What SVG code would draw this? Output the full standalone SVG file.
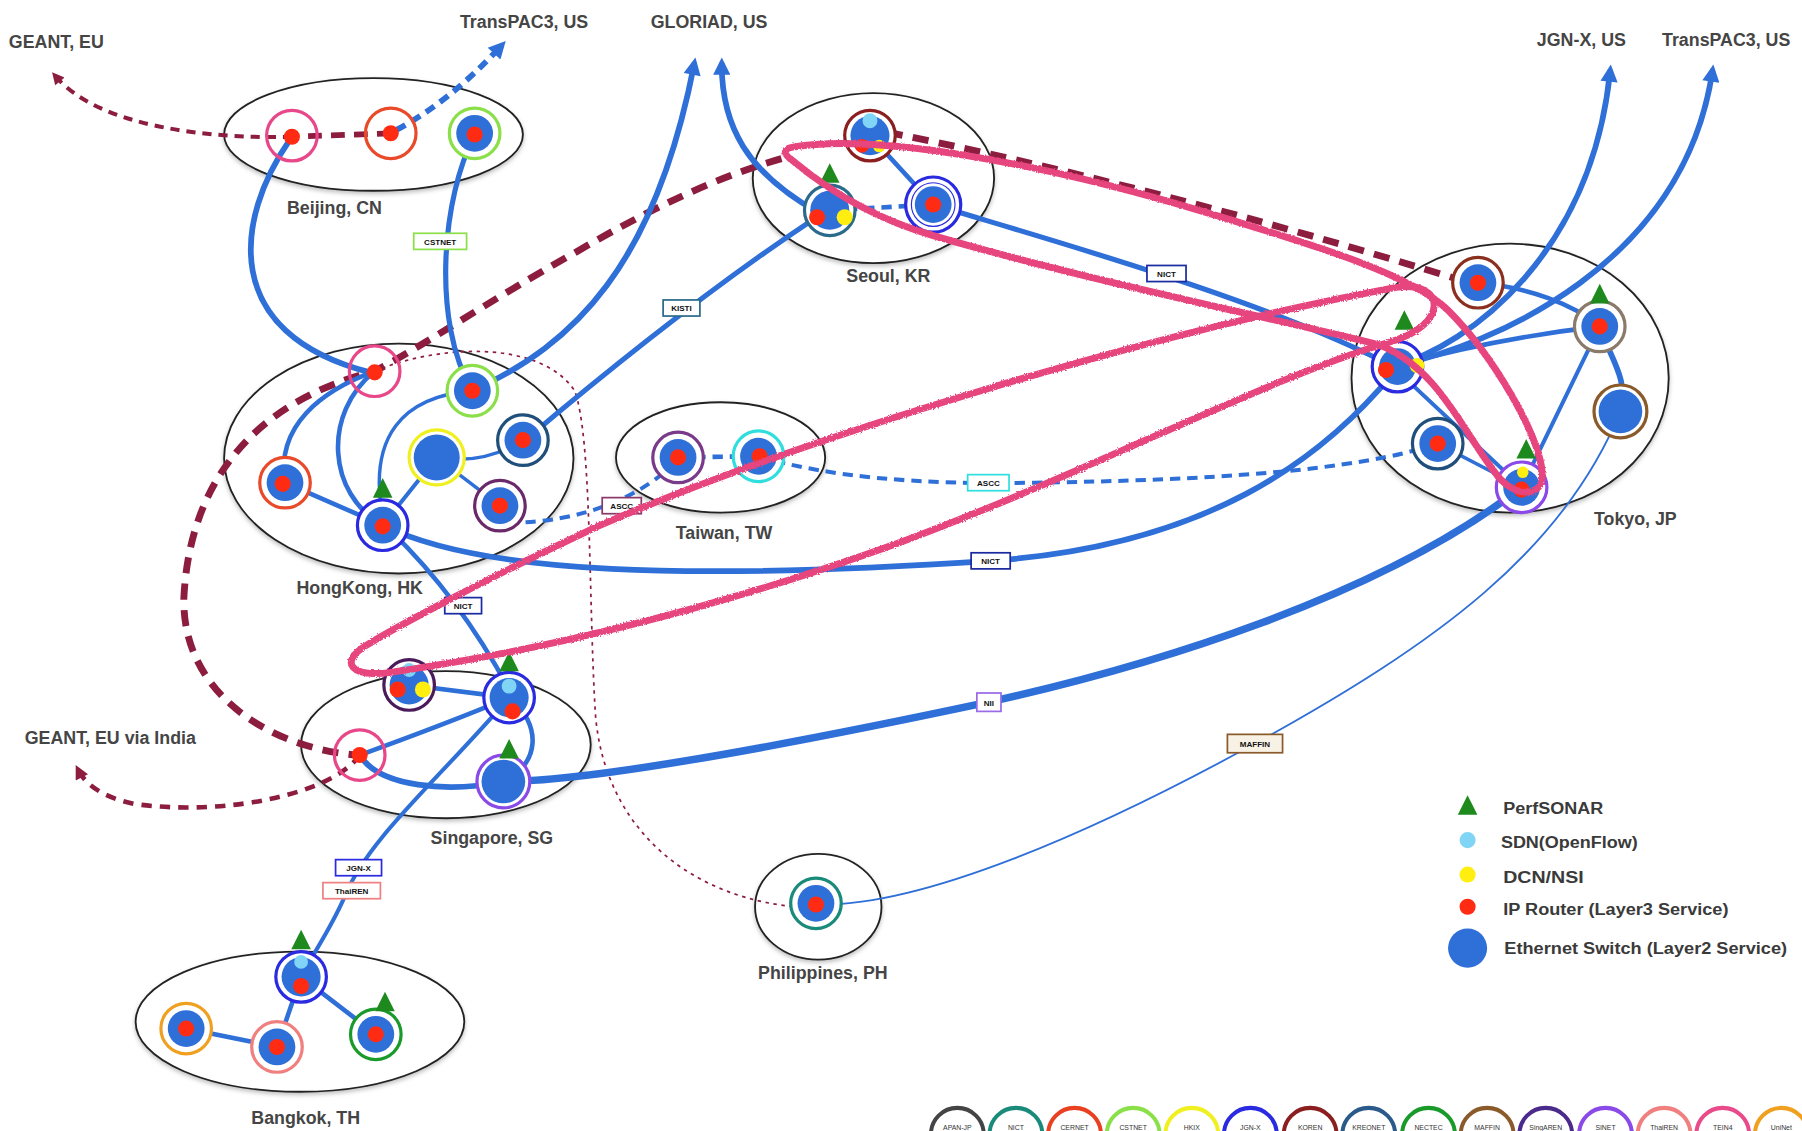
<svg xmlns="http://www.w3.org/2000/svg" xmlns:xlink="http://www.w3.org/1999/xlink" width="1802" height="1131" viewBox="0 0 1802 1131">
<style>
.e{fill:#fff;stroke:#222;stroke-width:1.6}
.city{font-family:"Liberation Sans",Arial,sans-serif;font-size:15.5px;font-weight:bold;fill:#454545;text-anchor:middle}
.leg{font-family:"Liberation Sans",Arial,sans-serif;font-size:15px;font-weight:bold;fill:#3a3a3a}
.b{fill:none;stroke:#2f6fd8;stroke-linecap:round;stroke-linejoin:round}
.bd{fill:none;stroke:#2f6fd8;stroke-dasharray:9 6}
.m{fill:none;stroke:#8c1d3f}
.sw{fill:#2f6fd8}
.rt{fill:#ff2b12}
.of{fill:#80d4f6}
.dcn{fill:#ffee10}
.ring{fill:#fff;stroke-width:2.8}
.ringo{fill:none;stroke-width:2.8}
.lbl rect{fill:#fff;stroke-width:1.5}
.lbl text{font-family:"Liberation Sans",Arial,sans-serif;font-size:7px;font-weight:bold;fill:#111;text-anchor:middle}
.pink{fill:none;stroke:#e6457d;stroke-width:6;stroke-linejoin:round;stroke-linecap:round}
.nw text{font-family:"Liberation Sans",Arial,sans-serif;font-size:6px;fill:#333;text-anchor:middle}
.nw circle{fill:#fff;stroke-width:3.5}
</style>
<defs>
<marker id="ab" viewBox="0 0 10 10" refX="6" refY="5" markerWidth="3.4" markerHeight="3" orient="auto"><path d="M0,0 L10,5 L0,10 Z" fill="#2f6fd8"/></marker>
<marker id="am" viewBox="0 0 10 10" refX="6" refY="5" markerWidth="3.4" markerHeight="3" orient="auto"><path d="M0,0 L10,5 L0,10 Z" fill="#8c1d3f"/></marker>
<polygon id="tri" points="0,-10 -8.5,7 8.5,7" fill="#1e8a1e"/>
<filter id="rough" x="-5%" y="-20%" width="110%" height="140%"><feTurbulence type="fractalNoise" baseFrequency="0.8" numOctaves="1" result="n"/><feDisplacementMap in="SourceGraphic" in2="n" scale="3"/></filter>
<filter id="sh" x="-10%" y="-10%" width="120%" height="125%"><feDropShadow dx="0" dy="2" stdDeviation="2" flood-color="#000" flood-opacity="0.25"/></filter>
</defs>
<rect width="1802" height="1131" fill="#fff"/>
<g transform="scale(1.14925)">

<g id="clusters">
<ellipse class="e" filter="url(#sh)" cx="325" cy="117" rx="130" ry="49"/>
<ellipse class="e" filter="url(#sh)" cx="760" cy="155" rx="105" ry="74"/>
<ellipse class="e" filter="url(#sh)" cx="347" cy="399" rx="152" ry="100"/>
<ellipse class="e" filter="url(#sh)" cx="627" cy="398" rx="91" ry="48"/>
<ellipse class="e" filter="url(#sh)" cx="1314" cy="329" rx="138" ry="117"/>
<ellipse class="e" filter="url(#sh)" cx="388" cy="648" rx="126" ry="64"/>
<ellipse class="e" filter="url(#sh)" cx="712" cy="789" rx="55" ry="46"/>
<ellipse class="e" filter="url(#sh)" cx="261" cy="889" rx="143" ry="61"/>
</g>

<g id="texts">
<text class="city" x="49" y="42">GEANT, EU</text>
<text class="city" x="456" y="24">TransPAC3, US</text>
<text class="city" x="617" y="24">GLORIAD, US</text>
<text class="city" x="1376" y="40">JGN-X, US</text>
<text class="city" x="1502" y="40">TransPAC3, US</text>
<text class="city" x="291" y="186">Beijing, CN</text>
<text class="city" x="773" y="245">Seoul, KR</text>
<text class="city" x="313" y="517">HongKong, HK</text>
<text class="city" x="630" y="469">Taiwan, TW</text>
<text class="city" x="1423" y="457">Tokyo, JP</text>
<text class="city" x="96" y="647">GEANT, EU via India</text>
<text class="city" x="428" y="734">Singapore, SG</text>
<text class="city" x="716" y="852">Philippines, PH</text>
<text class="city" x="266" y="978">Bangkok, TH</text>
</g>

<g id="connectors">
<path class="m" stroke-width="3.5" stroke-dasharray="8 6" marker-end="url(#am)" d="M254,119 C180,121 85,110 48,66"/>
<path class="m" stroke-width="5" stroke-dasharray="12 8" d="M340,116 L254,119"/>
<path class="m" stroke-width="6" stroke-dasharray="14 9" d="M1275,245 Q1000,160 757,112"/>
<path class="m" stroke-width="6" stroke-dasharray="14 9" d="M680,138 C620,155 560,185 500,220 C420,265 370,300 326,323 C220,350 165,420 160,520 C158,600 230,650 310,657"/>
<path class="m" stroke-width="4" stroke-dasharray="9 7" marker-end="url(#am)" d="M313,657 C290,690 200,710 120,700 C90,695 74,682 68,670"/>
<path class="m" stroke-width="1.5" stroke-dasharray="3 4" d="M326,323 C380,300 470,295 500,340 C515,380 512,520 518,620 C525,720 600,785 705,790"/>
<path class="bd" stroke-width="5" marker-end="url(#ab)" d="M345,113 Q392,88 436,40"/>
<path class="b" stroke-width="5" d="M252,122 C205,190 190,290 322,324"/>
<path class="b" stroke-width="4.5" d="M413,118 C385,170 375,280 411,340"/>
<path class="b" stroke-width="5" marker-end="url(#ab)" d="M411,340 C500,300 570,230 604,56"/>
<path class="b" stroke-width="5" marker-end="url(#ab)" d="M712,185 C650,150 628,110 628,56"/>
<path class="b" stroke-width="4.5" d="M712,188 Q600,262 457,383"/>
<path class="bd" stroke-width="4" d="M722,183 L812,178"/>
<path class="b" stroke-width="4" d="M757,118 L812,178"/>
<path class="b" stroke-width="4.5" d="M812,178 C900,205 1100,260 1212,319"/>
<path class="b" stroke-width="4" d="M326,323 C280,340 240,370 248,420"/>
<path class="b" stroke-width="4" d="M326,323 C280,360 285,430 333,457"/>
<path class="b" stroke-width="3" d="M411,340 C350,345 320,380 333,450"/>
<path class="b" stroke-width="3.5" d="M380,398 L333,457"/>
<path class="b" stroke-width="3" d="M380,398 L435,440"/>
<path class="b" stroke-width="3" d="M380,398 Q420,405 455,383"/>
<path class="b" stroke-width="4" d="M248,420 L333,457"/>
<path class="b" stroke-width="5" d="M333,457 C420,500 600,505 862,488 C1050,475 1150,400 1212,325"/>
<path class="b" stroke-width="4" d="M340,462 Q400,520 443,600"/>
<path class="bd" stroke-width="4" d="M590,398 L660,397"/>
<path class="bd" stroke-width="3.5" d="M588,402 C560,430 510,455 440,455"/>
<path class="bd" stroke-width="3.5" d="M660,397 C720,415 800,422 900,420 C1050,418 1180,410 1251,386"/>
<path class="b" stroke-width="4" d="M1286,246 C1330,250 1370,265 1392,284"/>
<path class="b" stroke-width="5" d="M1392,284 C1400,310 1418,330 1410,358"/>
<path class="b" stroke-width="3.5" d="M1392,284 L1324,424"/>
<path class="b" stroke-width="3.5" d="M1212,319 L1324,424"/>
<path class="b" stroke-width="3" d="M1251,386 L1324,424"/>
<path class="b" stroke-width="4" d="M1212,319 C1280,300 1340,290 1392,284"/>
<path class="b" stroke-width="5" marker-end="url(#ab)" d="M1212,319 C1280,300 1385,220 1401,62"/>
<path class="b" stroke-width="5" marker-end="url(#ab)" d="M1212,319 C1300,300 1465,230 1490,62"/>
<path class="b" stroke-width="1.6" d="M1410,358 C1360,480 1250,560 1092,647 C950,725 800,790 710,787"/>
<path class="b" stroke-width="6.5" d="M1324,424 C1200,520 1000,580 860,611 C700,645 520,680 438,680"/>
<path class="b" stroke-width="4" d="M356,596 L443,607"/>
<path class="b" stroke-width="4" d="M313,657 C360,640 400,625 443,607"/>
<path class="b" stroke-width="5" d="M313,657 C330,685 390,690 438,680"/>
<path class="b" stroke-width="4" d="M443,607 C472,630 470,665 438,680"/>
<path class="b" stroke-width="3.5" d="M443,607 C380,680 320,730 300,780 C287,810 272,830 262,850"/>
<path class="b" stroke-width="4" d="M162,895 L241,911"/>
<path class="b" stroke-width="4" d="M241,911 L262,850"/>
<path class="b" stroke-width="4" d="M262,850 L327,900"/>
</g>

<g id="nodes">
<g id="beijing-tein4"><circle class="ringo" cx="254" cy="118" r="22" stroke="#e8478a"/><circle class="rt" cx="254" cy="119" r="7"/></g>
<g id="beijing-cernet"><circle class="ringo" cx="340" cy="116" r="22" stroke="#e84a2a"/><circle class="rt" cx="340" cy="116" r="7"/></g>
<g id="beijing-cstnet"><circle class="ring" cx="413" cy="116" r="22" stroke="#8be04a"/><circle class="sw" cx="413" cy="116" r="16"/><circle class="rt" cx="413" cy="117" r="7"/></g>

<g id="seoul-koren"><circle class="ring" cx="757" cy="118" r="22" stroke="#8b1f1f"/><circle class="sw" cx="757" cy="118" r="17"/><circle class="of" cx="757" cy="105" r="6.5"/><circle class="rt" cx="750" cy="127" r="6"/><circle class="dcn" cx="765" cy="127" r="5.5"/></g>
<g id="seoul-kreonet"><circle class="ring" cx="722" cy="183" r="22" stroke="#2a6a8a"/><circle class="sw" cx="722" cy="183" r="17"/><circle class="rt" cx="711" cy="189" r="7"/><circle class="dcn" cx="735" cy="189" r="7"/><use xlink:href="#tri" x="722" y="152"/></g>
<g id="seoul-jgnx"><circle class="ring" cx="812" cy="178" r="24" stroke="#2a2ae0"/><circle fill="none" stroke="#2a2ae0" stroke-width="1" cx="812" cy="178" r="19"/><circle class="sw" cx="812" cy="178" r="16"/><circle class="rt" cx="812" cy="178" r="7"/></g>

<g id="hk-tein4"><circle class="ringo" cx="326" cy="323" r="22" stroke="#e8478a"/><circle class="rt" cx="326" cy="324" r="7"/></g>
<g id="hk-cstnet"><circle class="ring" cx="411" cy="340" r="22" stroke="#8be04a"/><circle class="sw" cx="411" cy="340" r="16"/><circle class="rt" cx="411" cy="340" r="7"/></g>
<g id="hk-hkix"><circle class="ring" cx="380" cy="398" r="24" stroke="#f0f020"/><circle class="sw" cx="380" cy="398" r="20"/></g>
<g id="hk-kreonet"><circle class="ring" cx="455" cy="383" r="22" stroke="#1f4f7a"/><circle class="sw" cx="455" cy="383" r="16"/><circle class="rt" cx="455" cy="383" r="7"/></g>
<g id="hk-cernet"><circle class="ring" cx="248" cy="420" r="22" stroke="#e84a2a"/><circle class="sw" cx="248" cy="420" r="16"/><circle class="rt" cx="246" cy="421" r="7"/></g>
<g id="hk-singaren"><circle class="ring" cx="435" cy="440" r="22" stroke="#6a2a6a"/><circle class="sw" cx="435" cy="440" r="16"/><circle class="rt" cx="435" cy="440" r="7"/></g>
<g id="hk-jgnx"><circle class="ring" cx="333" cy="457" r="22" stroke="#2a2ae0"/><circle class="sw" cx="333" cy="457" r="16"/><circle class="rt" cx="333" cy="458" r="7"/><use xlink:href="#tri" x="333" y="426"/></g>

<g id="tw-ascc"><circle class="ring" cx="590" cy="398" r="22" stroke="#7a3a8a"/><circle class="sw" cx="590" cy="398" r="16"/><circle class="rt" cx="590" cy="398" r="7"/></g>
<g id="tw-twaren"><circle class="ring" cx="660" cy="397" r="22" stroke="#30dede"/><circle class="sw" cx="660" cy="397" r="16"/><circle class="rt" cx="661" cy="397" r="7"/></g>

<g id="tokyo-koren"><circle class="ring" cx="1286" cy="246" r="22" stroke="#8b2f1f"/><circle class="sw" cx="1286" cy="246" r="16"/><circle class="rt" cx="1286" cy="246" r="7"/></g>
<g id="tokyo-jgnx"><circle class="ring" cx="1216" cy="319" r="22" stroke="#2a2ae0"/><circle class="sw" cx="1216" cy="319" r="16"/><circle class="rt" cx="1206" cy="322" r="7"/><circle class="dcn" cx="1233" cy="318" r="6.5"/><use xlink:href="#tri" x="1222" y="280"/></g>
<g id="tokyo-apan"><circle class="ring" cx="1392" cy="284" r="22" stroke="#8a7a6a"/><circle class="sw" cx="1392" cy="284" r="16"/><circle class="rt" cx="1392" cy="284" r="7"/><use xlink:href="#tri" x="1392" y="257"/></g>
<g id="tokyo-kreonet"><circle class="ring" cx="1251" cy="386" r="22" stroke="#1f4f7a"/><circle class="sw" cx="1251" cy="386" r="16"/><circle class="rt" cx="1251" cy="386" r="7"/></g>
<g id="tokyo-maffin"><circle class="ring" cx="1410" cy="358" r="23" stroke="#8a5a2a"/><circle class="sw" cx="1410" cy="358" r="19"/></g>
<g id="tokyo-sinet"><circle class="ring" cx="1324" cy="424" r="22" stroke="#8a4ae8"/><circle class="sw" cx="1324" cy="424" r="16"/><circle class="dcn" cx="1325" cy="411" r="5"/><circle class="rt" cx="1324" cy="426" r="7"/><use xlink:href="#tri" x="1328" y="392"/></g>

<g id="sg-singaren"><circle class="ring" cx="356" cy="596" r="22" stroke="#4a1a5a"/><circle class="sw" cx="356" cy="596" r="17"/><circle class="of" cx="356" cy="583" r="6"/><circle class="rt" cx="346" cy="600" r="7"/><circle class="dcn" cx="368" cy="600" r="7"/></g>
<g id="sg-jgnx"><circle class="ring" cx="443" cy="607" r="22" stroke="#2a2ae0"/><circle class="sw" cx="443" cy="607" r="17"/><circle class="of" cx="443" cy="597" r="6.5"/><circle class="rt" cx="446" cy="619" r="7"/><use xlink:href="#tri" x="443" y="577"/></g>
<g id="sg-tein4"><circle class="ringo" cx="313" cy="657" r="22" stroke="#e8478a"/><circle class="rt" cx="313" cy="657" r="7"/></g>
<g id="sg-sinet"><circle class="ring" cx="438" cy="680" r="23" stroke="#8a4ae8"/><circle class="sw" cx="438" cy="680" r="19"/><use xlink:href="#tri" x="443" y="653"/></g>

<g id="ph-node"><circle class="ring" cx="710" cy="786" r="22" stroke="#1a8a7a"/><circle class="sw" cx="710" cy="786" r="16"/><circle class="rt" cx="710" cy="787" r="7"/></g>

<g id="bk-jgnx"><circle class="ring" cx="262" cy="850" r="22" stroke="#2a2ae0"/><circle class="sw" cx="262" cy="850" r="17"/><circle class="of" cx="262" cy="837" r="6"/><circle class="rt" cx="262" cy="858" r="7"/><use xlink:href="#tri" x="262" y="819"/></g>
<g id="bk-uninet"><circle class="ring" cx="162" cy="895" r="22" stroke="#f0a020"/><circle class="sw" cx="162" cy="895" r="16"/><circle class="rt" cx="162" cy="895" r="7"/></g>
<g id="bk-thairen"><circle class="ring" cx="241" cy="911" r="22" stroke="#f08080"/><circle class="sw" cx="241" cy="911" r="16"/><circle class="rt" cx="241" cy="911" r="7"/></g>
<g id="bk-nectec"><circle class="ring" cx="327" cy="900" r="22" stroke="#1a9a2a"/><circle class="sw" cx="327" cy="900" r="16"/><circle class="rt" cx="327" cy="900" r="7"/><use xlink:href="#tri" x="335" y="873"/></g>
</g>

<g id="connector-labels" class="lbl">
<rect x="360" y="203" width="46" height="14" stroke="#8be04a"/><text x="383" y="213">CSTNET</text>
<rect x="577" y="261" width="32" height="14" stroke="#2a6a8a"/><text x="593" y="271">KISTI</text>
<rect x="998" y="231" width="34" height="14" stroke="#1a2aa0"/><text x="1015" y="241">NICT</text>
<rect x="842" y="413" width="36" height="14" stroke="#30e0e0"/><text x="860" y="423">ASCC</text>
<rect x="524" y="433" width="34" height="14" stroke="#8a3a6a"/><text x="541" y="443">ASCC</text>
<rect x="845" y="481" width="34" height="14" stroke="#1a2aa0"/><text x="862" y="491">NICT</text>
<rect x="387" y="520" width="32" height="14" stroke="#1a2aa0"/><text x="403" y="530">NICT</text>
<rect x="850" y="603" width="21" height="16" stroke="#9a6ae8"/><text x="860.5" y="614">NII</text>
<rect x="1068" y="639" width="48" height="16" stroke="#8a5a2a" style="fill:#f8f2e6"/><text x="1092" y="650">MAFFIN</text>
<rect x="292" y="748" width="40" height="14" stroke="#2a2ae0"/><text x="312" y="758">JGN-X</text>
<rect x="281" y="768" width="50" height="14" stroke="#f08080"/><text x="306" y="778">ThaiREN</text>
</g>

<g id="pink-loops" filter="url(#rough)">
<path class="pink" d="M690,128 C760,116 900,140 1050,185 C1150,215 1230,240 1260,270 C1300,310 1340,380 1342,412 C1344,432 1318,436 1300,410 C1270,370 1250,320 1200,300 C1100,275 950,245 812,205 C760,190 720,165 690,140 C680,133 682,129 690,128 Z"/>
<path class="pink" d="M1215,250 C1000,290 700,380 520,458 C420,505 340,548 318,562 C295,576 305,590 340,585 C500,562 650,520 783,472 C950,410 1100,330 1208,298 C1262,283 1258,244 1215,250 Z"/>
</g>

<g id="legend">
<use xlink:href="#tri" x="1277" y="702"/><text class="leg" x="1308" y="708" textLength="87" lengthAdjust="spacingAndGlyphs">PerfSONAR</text>
<circle class="of" cx="1277" cy="731" r="7"/><text class="leg" x="1306" y="738" textLength="119" lengthAdjust="spacingAndGlyphs">SDN(OpenFlow)</text>
<circle class="dcn" cx="1277" cy="761" r="7"/><text class="leg" x="1308" y="768" textLength="70" lengthAdjust="spacingAndGlyphs">DCN/NSI</text>
<circle class="rt" cx="1277" cy="789" r="7"/><text class="leg" x="1308" y="796" textLength="196" lengthAdjust="spacingAndGlyphs">IP Router (Layer3 Service)</text>
<circle class="sw" cx="1277" cy="825" r="17"/><text class="leg" x="1309" y="830" textLength="246" lengthAdjust="spacingAndGlyphs">Ethernet Switch (Layer2 Service)</text>
</g>

<g id="network-key" class="nw">
<circle cx="833" cy="987" r="23" stroke="#444"/><text x="833" y="983">APAN-JP</text>
<circle cx="884" cy="987" r="23" stroke="#1a8a7a"/><text x="884" y="983">NICT</text>
<circle cx="935" cy="987" r="23" stroke="#e84020"/><text x="935" y="983">CERNET</text>
<circle cx="986" cy="987" r="23" stroke="#8be04a"/><text x="986" y="983">CSTNET</text>
<circle cx="1037" cy="987" r="23" stroke="#f0f020"/><text x="1037" y="983">HKIX</text>
<circle cx="1088" cy="987" r="23" stroke="#2a2ae0"/><text x="1088" y="983">JGN-X</text>
<circle cx="1140" cy="987" r="23" stroke="#8b1f1f"/><text x="1140" y="983">KOREN</text>
<circle cx="1191" cy="987" r="23" stroke="#2a5a8a"/><text x="1191" y="983">KREONET</text>
<circle cx="1243" cy="987" r="23" stroke="#1a9a2a"/><text x="1243" y="983">NECTEC</text>
<circle cx="1294" cy="987" r="23" stroke="#8a5a2a"/><text x="1294" y="983">MAFFIN</text>
<circle cx="1345" cy="987" r="23" stroke="#4a2a8a"/><text x="1345" y="983">SingAREN</text>
<circle cx="1397" cy="987" r="23" stroke="#8a4ae8"/><text x="1397" y="983">SINET</text>
<circle cx="1448" cy="987" r="23" stroke="#f08080"/><text x="1448" y="983">ThaiREN</text>
<circle cx="1499" cy="987" r="23" stroke="#e84a8a"/><text x="1499" y="983">TEIN4</text>
<circle cx="1550" cy="987" r="23" stroke="#f0a020"/><text x="1550" y="983">UniNet</text>
</g>
</g>
</svg>
